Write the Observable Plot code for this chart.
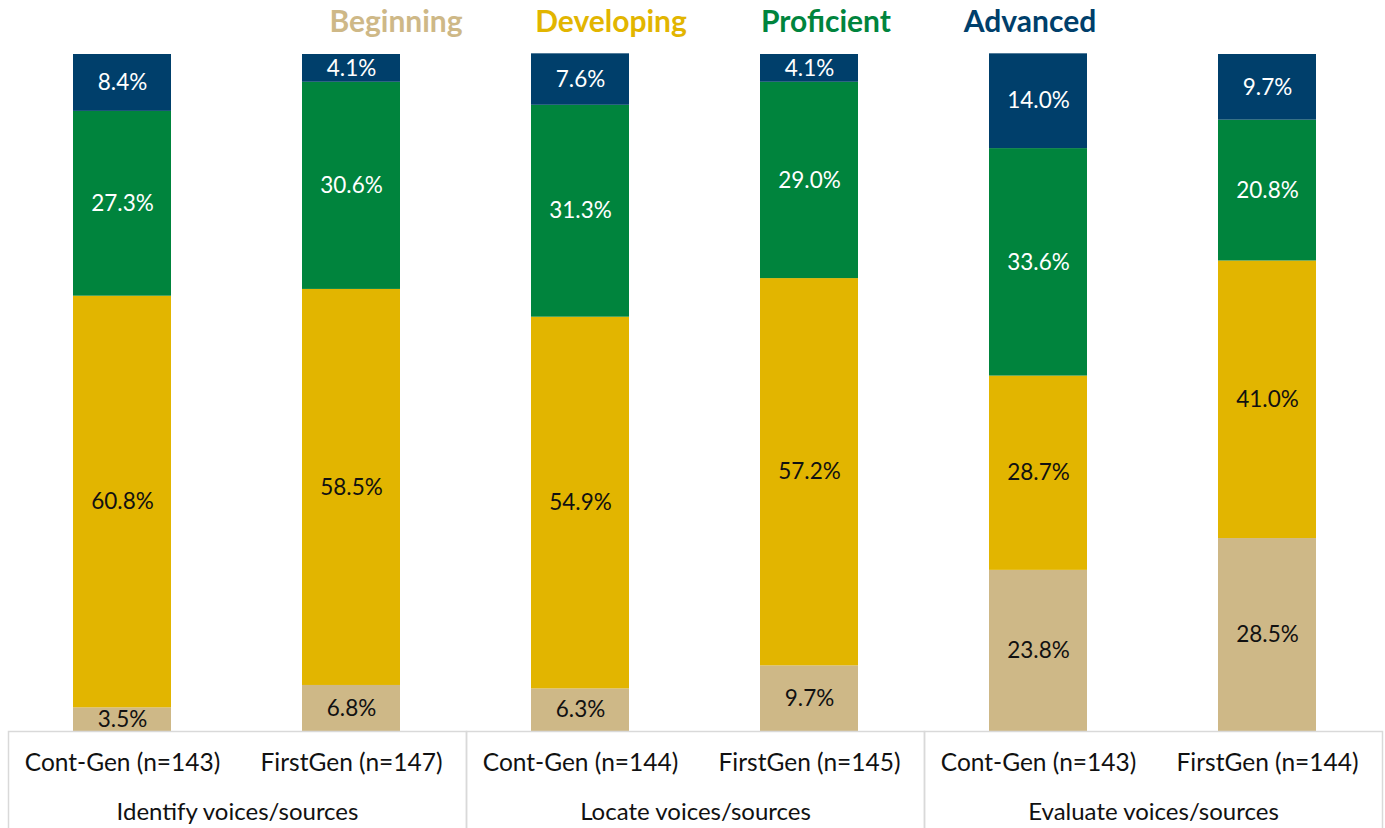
<!DOCTYPE html>
<html>
<head>
<meta charset="utf-8">
<script src="https://cdn.jsdelivr.net/npm/d3@7"></script>
<script src="https://cdn.jsdelivr.net/npm/@observablehq/plot@0.6"></script>
<style>
  html, body { margin: 0; padding: 0; background: #fff; }
  #chart { width: 1385px; height: 828px; font-family: Lato, "Open Sans", sans-serif; }
  #legend { position: relative; height: 54px; }
  #legend span { position: absolute; top: 2px; font-weight: 700; font-size: 30px; transform: translateX(-50%); white-space: nowrap; }
  svg { display: block; }
</style>
</head>
<body>
<div id="chart">
  <div id="legend"></div>
</div>
<script>
// ---- data ----
const groups = ["Identify voices/sources", "Locate voices/sources", "Evaluate voices/sources"];
const gens = ["Cont-Gen", "FirstGen"];
const sampleSizes = [[143, 147], [144, 145], [143, 144]];
const levels = ["Beginning", "Developing", "Proficient", "Advanced"];
const levelColors = ["#CEB887", "#E2B500", "#00843D", "#003F6B"];
// values per bar, in order: Identify Cont-Gen, Identify FirstGen, Locate Cont-Gen, Locate FirstGen, Evaluate Cont-Gen, Evaluate FirstGen
const beginning  = [3.5, 6.8, 6.3, 9.7, 23.8, 28.5];
const developing = [60.8, 58.5, 54.9, 57.2, 28.7, 41.0];
const proficient = [27.3, 30.6, 31.3, 29.0, 33.6, 20.8];
const advanced   = [8.4, 4.1, 7.6, 4.1, 14.0, 9.7];
const seriesValues = [beginning, developing, proficient, advanced];
const lightTextLevels = ["Proficient", "Advanced"];

// ---- build tables ----
const bars = [];
groups.forEach((g, gi) => gens.forEach((gen, ji) => {
  bars.push({group: g, gen, label: `${gen} (n=${sampleSizes[gi][ji]})`, index: gi * 2 + ji});
}));
const data = [];
bars.forEach(b => levels.forEach((lv, li) => {
  data.push({group: b.group, gen: b.gen, level: lv, value: seriesValues[li][b.index]});
}));
const fmt = v => v.toFixed(1) + "%";

// ---- legend ----
const legendCenters = [396, 611, 826, 1030];
const legend = document.getElementById("legend");
levels.forEach((lv, i) => {
  const s = document.createElement("span");
  s.textContent = lv;
  s.style.color = levelColors[i];
  s.style.left = legendCenters[i] + "px";
  legend.appendChild(s);
});

// ---- chart ----
const W = 1385, H = 774, MT = 0, MB = 97;
const innerH = H - MT - MB;
const font = "Lato, 'Open Sans', sans-serif";

const plot = Plot.plot({
  width: W,
  height: H,
  marginTop: MT,
  marginBottom: MB,
  marginLeft: 8,
  marginRight: 3,
  style: {fontFamily: font, background: "#fff", overflow: "visible"},
  fx: {domain: groups, paddingInner: 0, paddingOuter: 0, axis: null, label: null},
  x: {domain: gens, paddingInner: 0.572, paddingOuter: 0.286, axis: null, label: null},
  y: {domain: [0, 100], axis: null, label: null},
  color: {domain: levels, range: levelColors},
  marks: [
    Plot.barY(data, {fx: "group", x: "gen", y: "value", fill: "level", order: null}),
    Plot.frame({stroke: "#d9d9d9", strokeWidth: 1.5, insetTop: innerH, insetBottom: -110}),
    Plot.text(data, Plot.stackY({
      fx: "group", x: "gen", y: "value", order: null,
      text: d => lightTextLevels.includes(d.level) ? "" : fmt(d.value),
      fill: "#111", fontSize: 22.5
    })),
    Plot.text(data, Plot.stackY({
      fx: "group", x: "gen", y: "value", order: null,
      text: d => lightTextLevels.includes(d.level) ? fmt(d.value) : "",
      fill: "#fff", fontSize: 22.5
    })),
    Plot.text(bars, {fx: "group", x: "gen", text: "label", frameAnchor: "bottom", dy: 39, fontSize: 24.5, fill: "#111"}),
    Plot.text(groups, {fx: d => d, text: d => d, frameAnchor: "bottom", dy: 88, fontSize: 24, fill: "#111"})
  ]
});
document.getElementById("chart").appendChild(plot);
</script>
</body>
</html>
